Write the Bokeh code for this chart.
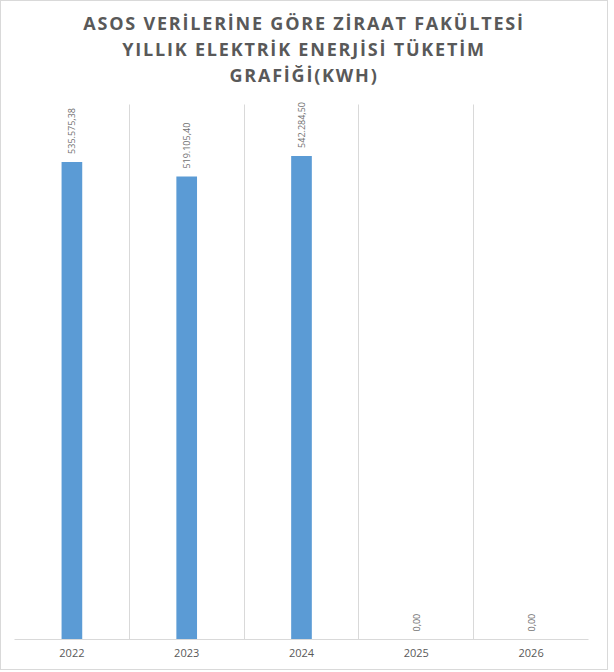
from bokeh.plotting import figure
from bokeh.models import Range1d, FixedTicker, Grid, ColumnDataSource, Div
from bokeh.layouts import column
from bokeh.embed import file_html
from bokeh.resources import INLINE
from bokeh.core.properties import value
import math

years = ["2022", "2023", "2024", "2025", "2026"]
consumption = [535575.38, 519105.40, 542284.50, 0.00, 0.00]
title_lines = ["ASOS VERİLERİNE GÖRE ZİRAAT FAKÜLTESİ",
               "YILLIK ELEKTRİK ENERJİSİ TÜKETİM",
               "GRAFİĞİ(KWH)"]
axis_max = 600000

def tr_fmt(v):
    s = f"{v:,.2f}"
    return s.replace(",", "X").replace(".", ",").replace("X", ".")

xs = [i + 0.5 for i in range(len(years))]
src = ColumnDataSource(dict(x=xs, y=consumption, lab=[tr_fmt(v) for v in consumption]))

title_div = Div(text="<br>".join(title_lines), width=596, height=84,
                styles={"text-align": "center", "font-family": "'Open Sans'",
                        "font-weight": "bold", "font-size": "18px",
                        "letter-spacing": "1.8px", "line-height": "26px",
                        "color": "#595959", "padding-top": "4px",
                        "box-sizing": "border-box", "width": "596px"})

p = figure(width=596, height=574, output_backend="svg", toolbar_location=None,
           x_range=Range1d(0, len(years)), y_range=Range1d(0, axis_max * 1.0167),
           min_border_left=13, min_border_right=9, min_border_bottom=30, min_border_top=0)
p.outline_line_color = None
p.background_fill_color = "white"
p.border_fill_color = "white"

p.yaxis.visible = False
p.ygrid.visible = False
p.xgrid.visible = False
g = Grid(dimension=0, ticker=FixedTicker(ticks=list(range(len(years) + 1))),
         grid_line_color="#d9d9d9", grid_line_width=1)
try:
    g.cross_bounds = (0, axis_max)
except Exception:
    pass
p.add_layout(g)

p.xaxis.ticker = FixedTicker(ticks=xs)
p.xaxis.major_label_overrides = {x: y for x, y in zip(xs, years)}
p.xaxis.axis_line_color = "#d9d9d9"
p.xaxis.major_tick_line_color = None
p.xaxis.minor_tick_line_color = None
p.xaxis.major_label_text_color = "#595959"
p.xaxis.major_label_text_font = "Open Sans"
p.xaxis.major_label_text_font_size = "11px"
p.xaxis.major_label_standoff = 3

p.vbar(x="x", top="y", width=0.18, bottom=0, source=src, color="#5B9BD5", line_color=None)
p.text(x="x", y="y", text="lab", source=src, angle=math.pi / 2, y_offset=-8,
       text_align="left", text_baseline="middle", text_font=value("Open Sans"),
       text_font_size="9px", text_color="#6f6f6f")

layout = column(title_div, p, spacing=0,
                styles={"border": "1px solid #d9d9d9", "background-color": "white"})

open("out.html", "w").write(file_html(layout, INLINE))
